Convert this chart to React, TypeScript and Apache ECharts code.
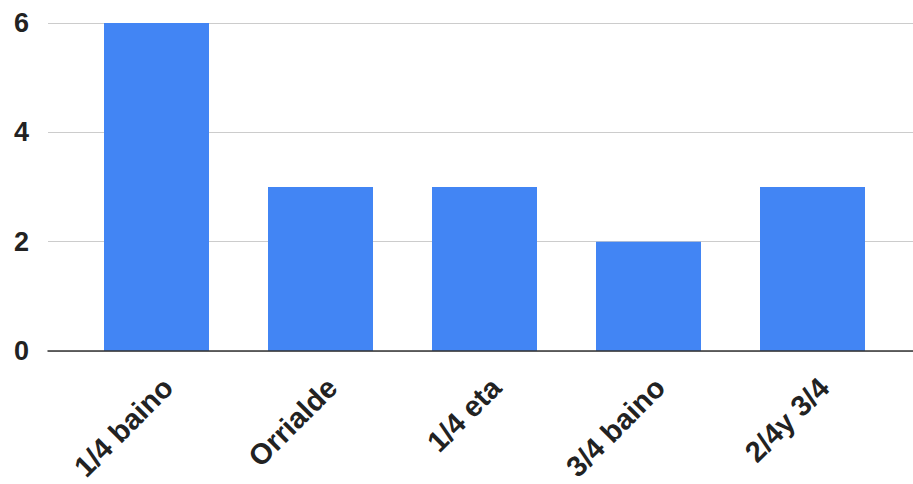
import React, { useEffect, useRef } from "react";
import * as echarts from "echarts";

const categories = ["1/4 baino", "Orrialde", "1/4 eta", "3/4 baino", "2/4y 3/4"];
const values = [6, 3, 3, 2, 3];
const yMin = 0;
const yMax = 6;
const yInterval = 2;

export default function App() {
  const ref = useRef<HTMLDivElement>(null);
  useEffect(() => {
    if (!ref.current) return;
    const chart = echarts.init(ref.current, null, { renderer: "svg" });
    const font = "Liberation Sans, Arial, sans-serif";
    chart.setOption({
      animation: false,
      backgroundColor: "#ffffff",
      grid: [
        { left: 48, right: 0, top: 23, bottom: 133 },
        { left: 74.5, width: 820, top: 23, bottom: 133 },
        { left: 86, width: 820, top: 23, bottom: 133 },
      ],
      xAxis: [
        {
          gridIndex: 0,
          type: "category",
          data: [""],
          axisLabel: { show: false },
          axisTick: { show: false },
          axisLine: { show: true, lineStyle: { color: "#333333", width: 1.5 } },
          z: 5,
        },
        {
          gridIndex: 1,
          type: "category",
          data: categories,
          axisLabel: { show: false },
          axisTick: { show: false },
          axisLine: { show: false },
        },
        {
          gridIndex: 2,
          type: "category",
          data: categories,
          axisTick: { show: false },
          axisLine: { show: false },
          axisLabel: {
            rotate: 45,
            margin: 33,
            interval: 0,
            color: "#222222",
            fontSize: 29,
            fontWeight: "bold",
            fontFamily: font,
          },
        },
      ],
      yAxis: [
        {
          gridIndex: 0,
          type: "value",
          min: yMin,
          max: yMax,
          interval: yInterval,
          axisLine: { show: false },
          axisTick: { show: false },
          splitLine: { lineStyle: { color: "#cccccc", width: 1 } },
          axisLabel: {
            margin: 19,
            color: "#222222",
            fontSize: 27,
            fontWeight: "bold",
            fontFamily: font,
          },
        },
        {
          gridIndex: 1,
          type: "value",
          min: yMin,
          max: yMax,
          interval: yInterval,
          show: false,
        },
        {
          gridIndex: 2,
          type: "value",
          min: yMin,
          max: yMax,
          interval: yInterval,
          show: false,
        },
      ],
      series: [
        {
          type: "bar",
          xAxisIndex: 1,
          yAxisIndex: 1,
          data: values,
          barWidth: 105,
          itemStyle: { color: "#4285F4" },
          z: 2,
        },
      ],
    });
    return () => chart.dispose();
  }, []);
  return (
    <div
      ref={ref}
      style={{ position: "fixed", left: 0, top: 0, width: 913, height: 484 }}
    />
  );
}
